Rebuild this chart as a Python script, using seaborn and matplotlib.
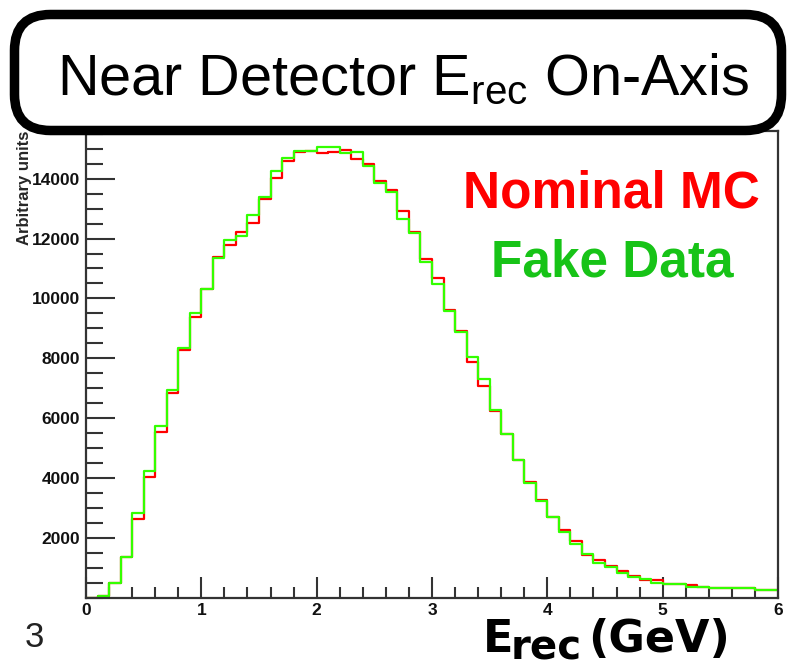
import numpy as np
import pandas as pd
import matplotlib
matplotlib.use("Agg")
import matplotlib.pyplot as plt
import seaborn as sns
from matplotlib.patches import FancyBboxPatch
from matplotlib.transforms import IdentityTransform
from matplotlib.ticker import FixedLocator, MultipleLocator

# Reconstructed-energy histogram, 0.1 GeV bins from 0 to 6 GeV
bin_edges = [round(0.1 * i, 1) for i in range(61)]

nominal_mc = [
    0, 50, 480, 1370, 2640, 4020, 5550, 6840, 8270, 9370,
    10300, 11390, 11780, 12210, 12530, 13330, 14010, 14600, 14900, 14940,
    14850, 14900, 14960, 14650, 14490, 13930, 13620, 12930, 12210, 11310,
    10680, 9600, 8920, 7880, 7070, 6250, 5470, 4590, 3870, 3260,
    2700, 2260, 1900, 1430, 1260, 1060, 900, 735, 590, 590,
    458, 458, 424, 368, 313, 313, 313, 313, 257, 257,
]

fake_data = [
    0, 50, 480, 1370, 2820, 4230, 5730, 6950, 8350, 9520,
    10300, 11340, 11950, 12100, 12780, 13400, 14260, 14680, 14940, 14940,
    15070, 15070, 14870, 14890, 14430, 13870, 13550, 12640, 12180, 11210,
    10480, 9580, 8890, 8030, 7300, 6270, 5480, 4590, 3830, 3230,
    2690, 2180, 1800, 1460, 1170, 1020, 835, 680, 615, 480,
    458, 458, 368, 368, 313, 313, 313, 313, 257, 257,
]

x_ticks = [0, 1, 2, 3, 4, 5, 6]
y_ticks = [2000, 4000, 6000, 8000, 10000, 12000, 14000]

edges_arr = np.array(bin_edges)
bin_centers = (edges_arr[:-1] + edges_arr[1:]) / 2
df = pd.DataFrame({"E": bin_centers, "nominal": nominal_mc, "fake": fake_data})

sns.set_style("white")
plt.rcParams["font.family"] = ["Liberation Sans", "DejaVu Sans"]
plt.rcParams["mathtext.fontset"] = "custom"
plt.rcParams["mathtext.rm"] = "Liberation Sans"
plt.rcParams["mathtext.it"] = "Liberation Sans:italic"
plt.rcParams["mathtext.bf"] = "Liberation Sans:bold"

W, H = 787, 669
fig = plt.figure(figsize=(W / 100, H / 100), dpi=100)
fig.patch.set_facecolor("white")

ax_left, ax_right, ax_bottom, ax_top = 86, 778, 597.7, 130.8
ax = fig.add_axes([ax_left / W, 1 - ax_bottom / H,
                   (ax_right - ax_left) / W, (ax_bottom - ax_top) / H])

sns.histplot(data=df, x="E", weights="nominal", bins=bin_edges,
             element="step", fill=False, color="#ff0000", linewidth=1.6, ax=ax)
sns.histplot(data=df, x="E", weights="fake", bins=bin_edges,
             element="step", fill=False, color="#33ff00", linewidth=1.6, ax=ax)

ax.set_xlim(0, 6)
ax.set_ylim(0, 15600)
ax.set_xlabel("")
ax.set_ylabel("")

ax.xaxis.set_major_locator(FixedLocator(x_ticks))
ax.xaxis.set_minor_locator(MultipleLocator(0.2))
ax.yaxis.set_major_locator(FixedLocator(y_ticks))
ax.yaxis.set_minor_locator(MultipleLocator(500))
ax.set_xticklabels([str(t) for t in x_ticks], fontweight="bold")
ax.set_yticklabels([str(t) for t in y_ticks], fontweight="bold")

axis_col = "#333333"
ax.tick_params(axis="x", which="major", direction="in", length=15, width=1.5,
               color=axis_col, labelsize=12.5, labelcolor="#111111", pad=3.5,
               top=False, bottom=True)
ax.tick_params(axis="x", which="minor", direction="in", length=8, width=1.5,
               color=axis_col, top=False, bottom=True)
ax.tick_params(axis="y", which="major", direction="in", length=21, width=1.5,
               color=axis_col, labelsize=12.5, labelcolor="#111111", pad=4.3,
               right=False, left=True)
ax.tick_params(axis="y", which="minor", direction="in", length=12, width=1.5,
               color=axis_col, right=False, left=True)
for s in ax.spines.values():
    s.set_color(axis_col)
    s.set_linewidth(1.6)

# y-axis title, rotated, hanging from the top of the axis
fig.text(25 / W, 1 - 131 / H, "Arbitrary units", rotation=90, ha="center",
         va="top", fontsize=12, fontweight="bold", zorder=1)

# Legend-style labels
fig.text(611 / W, 1 - 207 / H, "Nominal MC", ha="center", va="baseline",
         color="#ff0000", fontsize=37, fontweight="bold")
fig.text(612 / W, 1 - 277 / H, "Fake Data", ha="center", va="baseline",
         color="#17c317", fontsize=37, fontweight="bold")

# x-axis title built from pieces so the subscript keeps its size
xl_font = dict(family="DejaVu Sans", fontweight="bold", va="baseline", ha="left",
               color="black")
fig.text(483 / W, 1 - 652 / H, "E", fontsize=32, **xl_font)
fig.text(511 / W, 1 - 660 / H, "rec", fontsize=29, **xl_font)
fig.text(588 / W, 1 - 652 / H, "(GeV)", fontsize=32, **xl_font)

# page number
fig.text(25 / W, 1 - 647 / H, "3", fontsize=25, ha="left", va="baseline",
         color="#222222")

# Rounded title banner
box = FancyBboxPatch((14.5, H - 130.5), 767, 116,
                     boxstyle="round,pad=0,rounding_size=36",
                     transform=IdentityTransform(), facecolor="white",
                     edgecolor="black", linewidth=9.5 * 0.72, zorder=5)
fig.add_artist(box)
fig.text(403 / W, 1 - 95 / H, r"Near Detector $\mathrm{E}_{\mathrm{rec}}$ On-Axis",
         ha="center", va="baseline", fontsize=41.5, color="black", zorder=6)

fig.savefig("out.png", dpi=100, facecolor="white")
